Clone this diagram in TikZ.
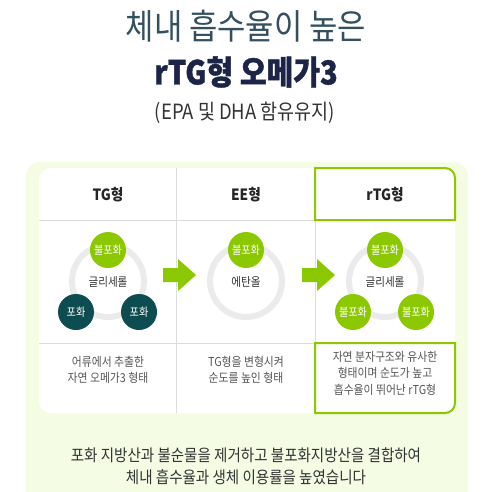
\documentclass[tikz,border=0pt]{standalone}
\usepackage{fontspec}
\setmainfont{Noto Sans CJK KR}[FakeStretch=0.88]
\definecolor{panel}{HTML}{F4FCE4}
\definecolor{lime}{HTML}{8CC800}
\definecolor{teal}{HTML}{0D4C51}
\definecolor{ringgray}{HTML}{EBEBEB}
\definecolor{divgray}{HTML}{DCDCDC}
\definecolor{titlecol}{HTML}{34505E}
\definecolor{navy}{HTML}{1C2548}
\definecolor{txt}{HTML}{333333}
\definecolor{desc}{HTML}{555555}
\tikzset{
  sat/.style={circle, fill=teal, minimum size=36pt, inner sep=0pt, text=white, font=\fontsize{11.5}{13}\selectfont},
  unsat/.style={circle, fill=lime, minimum size=36pt, inner sep=0pt, text=white, font=\fontsize{11.5}{13}\selectfont},
  ring/.style={draw=ringgray, line width=6pt},
  core/.style={text=txt, font=\fontsize{12}{13}\selectfont},
  head/.style={text=black!85, font=\fontsize{15.5}{17}\selectfont\bfseries},
  desctext/.style={text=desc, align=center, font=\fontsize{12.3}{16.5}\selectfont},
  divider/.style={draw=divgray, line width=1pt},
  greenarrow/.style={fill=lime},
  rtgbox/.style={draw=lime, line width=2pt}
}
\begin{document}
\begin{tikzpicture}[x=1pt,y=-1pt]
\useasboundingbox (0,0) rectangle (492,492);
\clip (0,0) rectangle (492,492);
% titles
\node[text=titlecol, font=\fontsize{35}{38}\selectfont] (t1) at (246,26) {체내 흡수율이 높은};
\node[text=navy, font=\fontsize{33}{36}\selectfont\bfseries\addfontfeature{FakeBold=1.2}] (t2) at (246,72) {rTG형 오메가3};
\node[text=txt, font=\fontsize{21}{24}\selectfont] (t3) at (245,113) {(EPA 및 DHA 함유유지)};
% panel
\fill[panel, rounded corners=14pt] (26,162) rectangle (468,520);
\fill[white, rounded corners=12pt] (39,168) rectangle (455,413);
% dividers
\draw[divider] (176.5,168) -- (176.5,413);
\draw[divider] (315,168) -- (315,413);
\draw[divider] (39,220) -- (455,220);
\draw[divider] (39,343) -- (455,343);
% rTG boxes
\draw[rtgbox] (315,220) -- (315,168) -- (445,168) arc(-90:0:10) -- (455,220) -- cycle;
\draw[rtgbox] (315,343) -- (455,343) -- (455,403) arc(0:90:10) -- (315,413) -- cycle;
% headers
\node[head] (h1) at (108,195) {TG형};
\node[head] (h2) at (246,195) {EE형};
\node[head] (h3) at (385,195) {rTG형};
% TG
\draw[ring] (108,281) circle (36);
\node[core] (c1) at (108,282) {글리세롤};
\node[unsat] (a1) at (108,250) {불포화};
\node[sat] (a2) at (76,312) {포화};
\node[sat] (a3) at (139,312) {포화};
% EE
\draw[ring] (246,281) circle (36);
\node[core] (c2) at (246,282) {에탄올};
\node[unsat] (b1) at (246,250) {불포화};
% rTG
\draw[ring] (385,281) circle (36);
\node[core] (c3) at (385,282) {글리세롤};
\node[unsat] (d1) at (385,250) {불포화};
\node[unsat] (d2) at (353,312) {불포화};
\node[unsat] (d3) at (416,312) {불포화};
% arrows
\fill[greenarrow] (163,268) -- (178,268) -- (178,259) -- (196,275) -- (178,291) -- (178,282) -- (163,282) -- cycle;
\fill[greenarrow] (302,268) -- (317,268) -- (317,259) -- (335,275) -- (317,291) -- (317,282) -- (302,282) -- cycle;
% descriptions
\node[desctext] (e1) at (108,370) {어류에서 추출한\\자연 오메가3 형태};
\node[desctext] (e2) at (246,370) {TG형을 변형시켜\\순도를 높인 형태};
\node[desctext] (e3) at (385,373) {자연 분자구조와 유사한\\형태이며 순도가 높고\\흡수율이 뛰어난 rTG형};
% bottom
\node[text=txt, align=center, font=\fontsize{16.5}{22}\selectfont] (f1) at (246,466) {포화 지방산과 불순물을 제거하고 불포화지방산을 결합하여\\체내 흡수율과 생체 이용률을 높였습니다};
\end{tikzpicture}
\end{document}
